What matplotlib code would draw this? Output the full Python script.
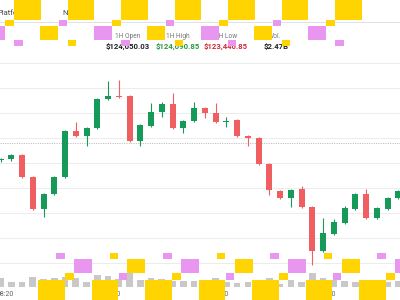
import matplotlib
matplotlib.use("Agg")
import matplotlib.pyplot as plt
from matplotlib.patches import Rectangle
import numpy as np

plt.rcParams['font.family'] = ['Roboto', 'DejaVu Sans']

# hourly candles (USD)
opens  = [124560, 124580, 124660, 124220, 123580, 123880, 124220, 125140, 125040, 125200,
          125780, 125840, 125840, 124940, 125240, 125520, 125680, 125200, 125340, 125600,
          125500, 125320, 125360, 125040, 125000, 124480, 123940, 123800, 123980, 123620,
          122740, 123080, 123300, 123580, 123880, 123400, 123580, 123800]
closes = [124590, 124660, 124220, 123580, 123880, 124220, 125140, 125040, 125200, 125780,
          125840, 125820, 124940, 125260, 125520, 125680, 125200, 125340, 125600, 125500,
          125320, 125350, 125040, 125000, 124480, 123960, 123800, 123960, 123620, 122740,
          123100, 123320, 123600, 123880, 123400, 123600, 123800, 123940]
highs  = [124600, 124680, 124680, 124240, 123900, 124240, 125160, 125320, 125220, 125800,
          126140, 126160, 125860, 125280, 125700, 125720, 125900, 125360, 125720, 125620,
          125700, 125420, 125380, 125060, 125020, 124500, 123960, 123980, 124040, 123640,
          123400, 123380, 123640, 123900, 123980, 123620, 123820, 123960]
lows   = [124520, 124540, 124200, 123560, 123420, 123860, 124200, 125020, 124840, 125180,
          125760, 125810, 124920, 124840, 125220, 125420, 125180, 125100, 125320, 125400,
          125300, 125220, 125020, 124840, 124460, 123860, 123780, 123620, 123600, 122460,
          122720, 123060, 123280, 123560, 123380, 123380, 123560, 123780]
volumes = [72, 40, 40, 80, 64, 72, 80, 72, 40, 96, 88, 64, 112, 56, 72, 64, 48, 48, 48,
           56, 72, 40, 32, 40, 56, 72, 24, 56, 40, 112, 72, 56, 48, 40, 48, 40, 40, 48]

grid_prices = [122500, 123000, 123500, 124000, 124500, 125000, 125500, 126000, 126500]
ref_price = 124900
time_ticks = [0, 10, 20, 30]
time_labels = ['08:20', '18:20', '04:20', '14:20']

stat_names = ['1H Open', '1H High', '1H Low', 'Vol.']
stat_values = ['$124,050.03', '$124,090.85', '$123,446.85', '$2.47B']

UP = '#169a5a'
DOWN = '#ef5f62'

W, H = 400, 300
fig = plt.figure(figsize=(4, 3), dpi=100)

# price panel: px rows 50..287
rect = [0, (H - 287) / H, 1, (287 - 50) / H]
ax = fig.add_axes(rect)
axv = fig.add_axes(rect, zorder=-1)

x = np.arange(len(opens))
o = np.array(opens); c = np.array(closes)
up = c >= o
cols = np.where(up, UP, DOWN)

for p in grid_prices:
    ax.axhline(p, color='#ececec', lw=0.7, zorder=0)
ax.axhline(ref_price, color='#b5b5b5', lw=0.7, ls=(0, (1, 1.4)), zorder=0)

ax.vlines(x, lows, highs, colors=cols, lw=0.8, zorder=2)
bottom = np.minimum(o, c)
height = np.maximum(np.abs(c - o), 30)
ax.bar(x, height, bottom=bottom, width=0.56, color=cols, zorder=3)

ax.set_xlim(-0.05, 37.15)
ax.set_ylim(122020, 126760)
ax.axis('off')

axv.bar(x, volumes, width=0.62, color='#c8c8c8')
axv.set_xlim(-0.05, 37.15)
axv.set_ylim(0, 237 * 8)
axv.set_xticks([t + 0.4 for t in time_ticks])
axv.set_xticklabels(time_labels, fontsize=5, color='#666666')
axv.tick_params(axis='x', length=0, pad=3)
axv.set_yticks([])
for s in axv.spines.values():
    s.set_visible(False)

# header
fig.text(-3 / W, 1 - 13 / H, 'Platform', fontsize=5.5, color='#444444', va='center')
fig.text(62 / W, 1 - 13 / H, 'Network', fontsize=5.5, color='#444444', va='center')
fig.add_artist(plt.Line2D([0, 1], [1 - 22 / H] * 2, color='#e3e3e3', lw=0.7,
                          transform=fig.transFigure))
centers = [128, 178, 226, 276]
val_cols = ['#222222', '#2b9a46', '#cc2f3a', '#222222']
for cx, n, v, vc in zip(centers, stat_names, stat_values, val_cols):
    fig.text(cx / W, 1 - 36 / H, n, fontsize=4.8, color='#777777', ha='center', va='center')
    fig.text(cx / W, 1 - 46.5 / H, v, fontsize=5.6, color=vc, ha='center', va='center',
             fontweight='bold')

# overlay blocks
YEL = '#ffd400'
PUR = '#e896f0'
P = 53.5


def block(x0, y0, w, h, col):
    fig.add_artist(Rectangle((x0 / W, 1 - (y0 + h) / H), w / W, h / H, color=col,
                             lw=0, transform=fig.transFigure, zorder=10))


for k in range(-1, 7):
    x0 = 14 + P * k
    if k >= 0:
        block(x0, 0, 26.5, 20, YEL)
        block(x0 - 9, 20, 8.5, 6, YEL if k % 2 == 0 else PUR)
        block(x0, 40, 8.5, 6, PUR if k % 2 == 0 else YEL)
    if k <= 5:
        block(x0 + 26, 26, 18, 14, YEL if k % 2 == 0 else PUR)

for k in range(7):
    x0 = 38 + P * k
    block(x0, 280, 26.5, 20, YEL)
    block(x0 + 27, 273, 8.5, 7, YEL if k % 2 == 0 else PUR)
    block(x0 + 36, 259, 18, 14, PUR if k % 2 == 0 else YEL)
    block(x0 + 18, 253, 8.5, 6, PUR if k % 2 == 0 else YEL)

fig.savefig('out.png', dpi=100)
